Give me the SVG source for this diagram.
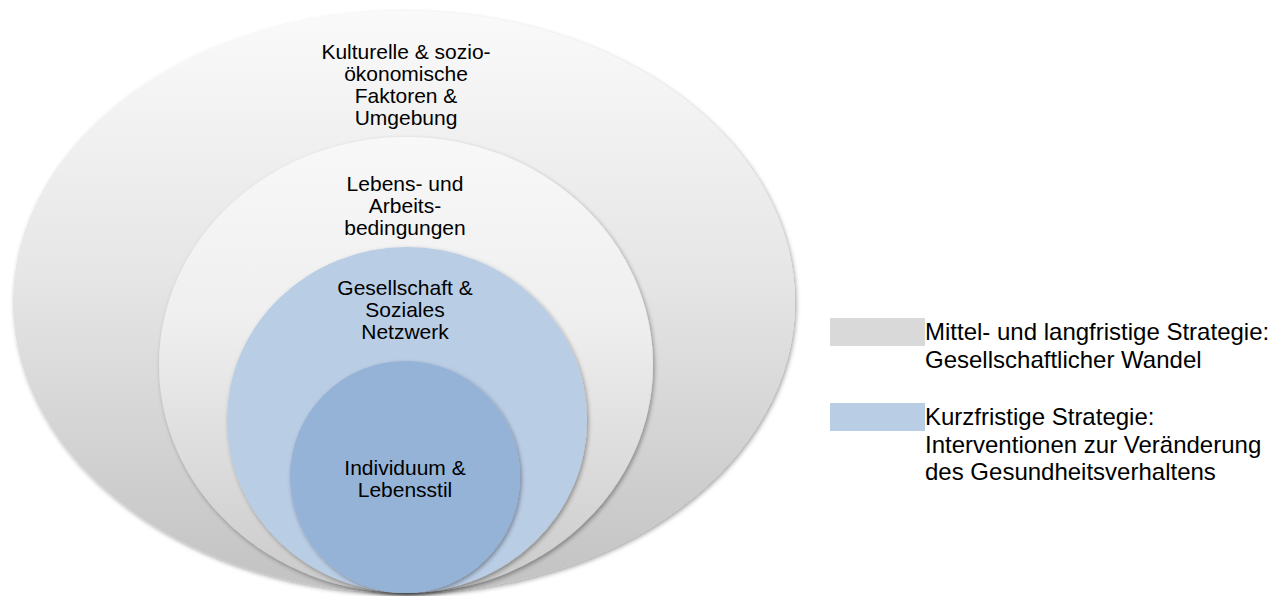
<svg xmlns="http://www.w3.org/2000/svg" width="1285" height="596" viewBox="0 0 1285 596">
<style>
text{font-family:"Liberation Sans",Arial,sans-serif;fill:#000}
.lbl{font-size:21px;text-anchor:middle}
.leg{font-size:24px}
</style>
<defs>
<linearGradient id="g1" x1="0" y1="0" x2="0" y2="1">
<stop offset="0" stop-color="#fafafa"/>
<stop offset="0.45" stop-color="#e6e6e6"/>
<stop offset="1" stop-color="#c2c2c2"/>
</linearGradient>
<linearGradient id="g2" x1="0" y1="0" x2="0" y2="1">
<stop offset="0" stop-color="#f8f8f8"/>
<stop offset="0.4" stop-color="#efefef"/>
<stop offset="1" stop-color="#cacaca"/>
</linearGradient>
<filter id="sh" x="-10%" y="-10%" width="120%" height="120%">
<feDropShadow dx="1.5" dy="2" stdDeviation="2" flood-color="#000" flood-opacity="0.35"/>
</filter>
</defs>
<g id="outer">
<ellipse cx="404" cy="302" rx="391" ry="291" fill="url(#g1)" filter="url(#sh)"/>
<text class="lbl" x="406" y="59">Kulturelle &amp; sozio-</text>
<text class="lbl" x="406" y="81">ökonomische</text>
<text class="lbl" x="406" y="103">Faktoren &amp;</text>
<text class="lbl" x="406" y="125">Umgebung</text>
</g>
<g id="second">
<ellipse cx="406" cy="365" rx="247" ry="228" fill="url(#g2)" filter="url(#sh)"/>
<text class="lbl" x="405" y="191">Lebens- und</text>
<text class="lbl" x="405" y="213">Arbeits-</text>
<text class="lbl" x="405" y="235">bedingungen</text>
</g>
<g id="third">
<ellipse cx="407" cy="420" rx="180" ry="173" fill="#b9cde5" filter="url(#sh)"/>
<text class="lbl" x="405" y="295">Gesellschaft &amp;</text>
<text class="lbl" x="405" y="317">Soziales</text>
<text class="lbl" x="405" y="339">Netzwerk</text>
</g>
<g id="inner">
<ellipse cx="405" cy="477" rx="115" ry="116" fill="#95b3d7" filter="url(#sh)"/>
<text class="lbl" x="405" y="475">Individuum &amp;</text>
<text class="lbl" x="405" y="497">Lebensstil</text>
</g>
<g id="legend-long">
<rect x="830" y="318" width="95" height="28" fill="#d9d9d9"/>
<text class="leg" x="925" y="340">Mittel- und langfristige Strategie:</text>
<text class="leg" x="925" y="368">Gesellschaftlicher Wandel</text>
</g>
<g id="legend-short">
<rect x="830" y="403" width="95" height="28" fill="#b9cde5"/>
<text class="leg" x="925" y="425">Kurzfristige Strategie:</text>
<text class="leg" x="925" y="453">Interventionen zur Veränderung</text>
<text class="leg" x="925" y="480">des Gesundheitsverhaltens</text>
</g>
<g id="connectors"/>
</svg>
